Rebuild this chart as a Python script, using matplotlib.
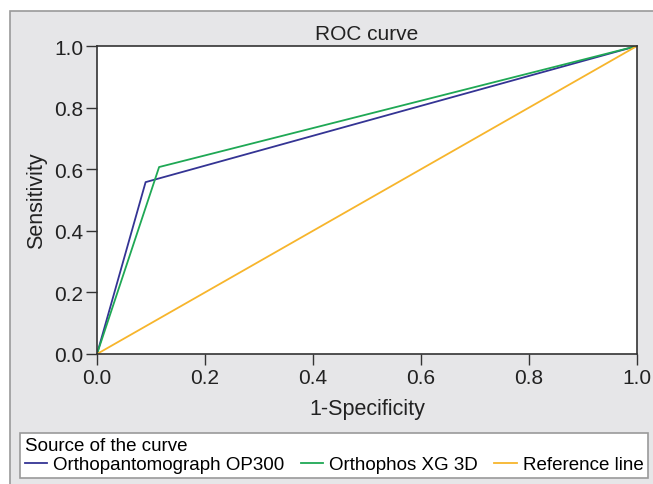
import matplotlib.pyplot as plt
from matplotlib.patches import Rectangle

# ROC points
op300_x = [0.0, 0.09, 1.0]
op300_y = [0.0, 0.558, 1.0]
xg3d_x = [0.0, 0.115, 1.0]
xg3d_y = [0.0, 0.607, 1.0]
ref_x = [0.0, 1.0]
ref_y = [0.0, 1.0]
ticks = [0.0, 0.2, 0.4, 0.6, 0.8, 1.0]

plt.rcParams['font.family'] = ['Liberation Sans', 'DejaVu Sans']

fig = plt.figure(figsize=(6.53, 4.85), dpi=100)
fig.patch.set_facecolor('white')

# grey panel behind everything
panel = Rectangle((10 / 653, -0.02), 1.0, 1 - 12 / 485 + 0.02, transform=fig.transFigure,
                  facecolor='#e6e6e8', edgecolor='#9a9a9a', linewidth=1.2, zorder=-5)
fig.patches.append(panel)

ax = fig.add_axes([97 / 653, 130 / 485, 540 / 653, 308 / 485])
ax.set_zorder(2)
ax.set_facecolor('white')
ax.plot(op300_x, op300_y, color='#343494', lw=1.3, label='Orthopantomograph OP300')
ax.plot(xg3d_x, xg3d_y, color='#1fa855', lw=1.3, label='Orthophos XG 3D')
ax.plot(ref_x, ref_y, color='#f7b52c', lw=1.3, label='Reference line')

ax.set_xlim(0, 1)
ax.set_ylim(0, 1)
ax.set_xticks(ticks)
ax.set_yticks(ticks)
ax.set_xticklabels([f'{t:.1f}' for t in ticks])
ax.set_yticklabels([f'{t:.1f}' for t in ticks])
ax.tick_params(direction='out', length=8, width=1, color='#333333', labelsize=15,
               labelcolor='#222222', pad=2)
for s in ax.spines.values():
    s.set_color('#333333')
    s.set_linewidth(1.2)

ax.set_title('ROC curve', fontsize=15, color='#222222', pad=5)
ax.set_xlabel('1-Specificity', fontsize=15.5, color='#222222', labelpad=8)
ax.set_ylabel('Sensitivity', fontsize=15.5, color='#222222', labelpad=5)

leg = fig.legend(loc='lower left', bbox_to_anchor=(20 / 653, 6 / 485, 628 / 653, 46 / 485),
                 ncol=3, mode='expand', title='Source of the curve', fontsize=13.5,
                 title_fontsize=13.5, frameon=True, fancybox=False, handlelength=1.2,
                 handletextpad=0.3, borderaxespad=0, borderpad=0.25, labelspacing=0.1,
                 facecolor='white', framealpha=1)
leg.set_zorder(3)
leg._legend_box.align = 'left'
leg.get_frame().set_edgecolor('#9a9a9a')
leg.get_frame().set_linewidth(1.2)

fig.savefig('out.png', dpi=100)
